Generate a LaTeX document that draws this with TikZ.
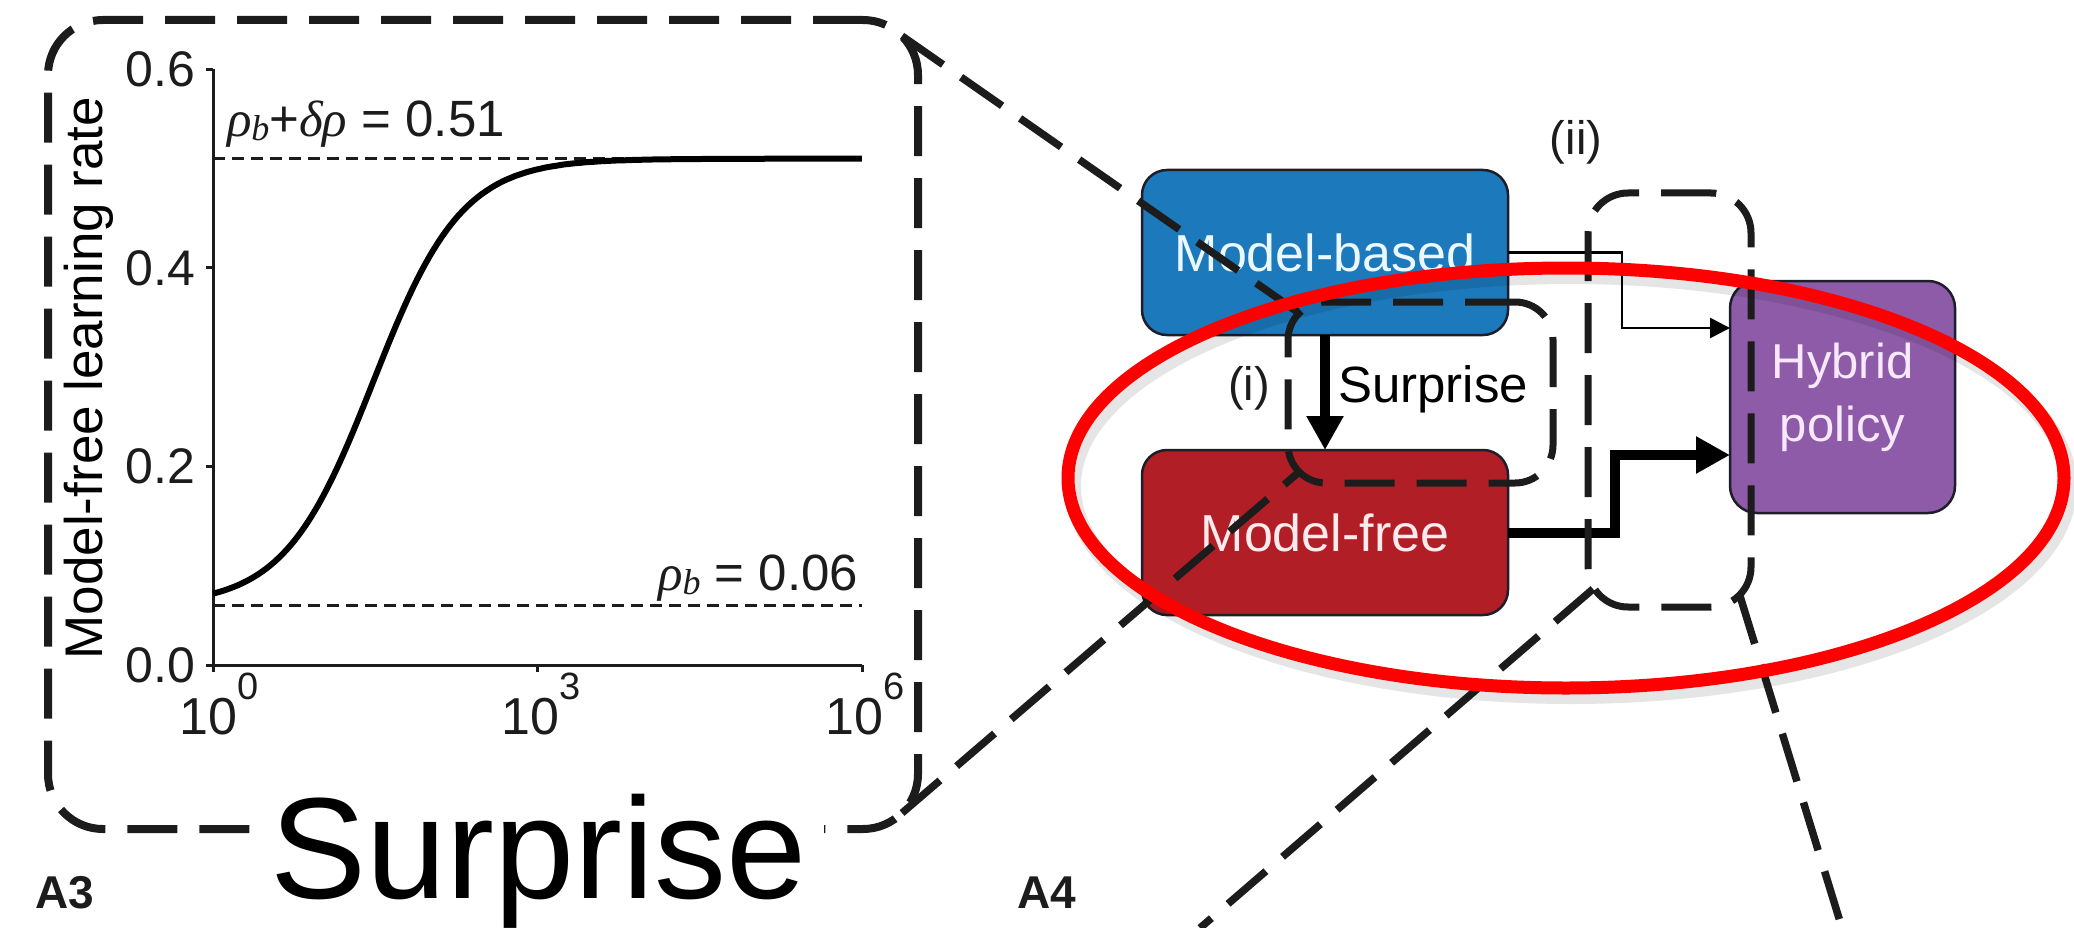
\documentclass[tikz,border=0pt]{standalone}
\usepackage{fontspec}
\setmainfont{Liberation Sans}
\newfontfamily\grkfont{Liberation Serif}
\usetikzlibrary{arrows.meta,calc,shapes.geometric}
\definecolor{inkc}{HTML}{1C1C1C}
\definecolor{mbblue}{RGB}{27,121,188}
\definecolor{mfred}{RGB}{178,30,38}
\definecolor{hppurple}{RGB}{142,91,168}
\definecolor{boxedge}{HTML}{1E1E2A}
\newcommand{\setfs}[1]{\fontsize{#1}{#1}\selectfont}
\newcommand{\tenpow}[1]{10\raisebox{35pt}{\setfs{38}#1}}
\newcommand{\grk}[1]{{\grkfont\itshape #1}}
\newcommand{\rhob}{\grk{ρ}\raisebox{-4pt}{\setfs{36}\grk{b}}}

\begin{document}
\begin{tikzpicture}[x=1pt,y=-1pt,
  every node/.style={inner sep=0pt, outer sep=0pt},
  axisline/.style={draw=inkc, line width=3pt},
  refline/.style={draw=inkc, line width=2.5pt, dash pattern=on 12pt off 7pt},
  curveline/.style={draw=black, line width=6pt},
  ticklab/.style={font={\setfs{50}}, text=inkc},
  dashframe/.style={draw=inkc, line width=7.5pt, dash pattern=on 50pt off 22pt},
  zoomline/.style={draw=inkc, line width=7.5pt, dash pattern=on 50pt off 22pt},
  flowbox/.style={draw=boxedge, line width=2.5pt, rounded corners=25pt, align=center},
  thinarrow/.style={draw=black, line width=2.7pt, -{Triangle[length=20pt,width=20pt]}},
  thickarrow/.style={draw=black, line width=10pt, -{Triangle[length=34pt,width=35pt]}},
  panellab/.style={font={\setfs{46}\bfseries}, text=inkc},
]
\useasboundingbox (0,0) rectangle (2074,928);

% ---------- learning-rate plot ----------
\draw[refline] (213,158.6) -- (862,158.6);
\draw[refline] (213,605.4) -- (862,605.4);
\draw[axisline] (213,69) -- (213,665) -- (862,665);
\foreach \v in {0,0.2,0.4,0.6}
  \draw[axisline] (213,{665-993*\v}) -- ++(-7,0);
\foreach \u in {0,3,6}
  \draw[axisline] ({213+\u*649/6},665) -- ++(0,7);
\draw[curveline] plot[domain=0:6, samples=160]
  ({213+\x*649/6}, {665-993*(0.06+0.45/(1+exp(-(\x-1.48)/0.41)))});

\node[ticklab, anchor=east] (yt0) at (195,665) {0.0};
\node[ticklab, anchor=east] (yt2) at (195,466.4) {0.2};
\node[ticklab, anchor=east] (yt4) at (195,267.8) {0.4};
\node[ticklab, anchor=east] (yt6) at (195,69.2) {0.6};
\node[font={\setfs{52}}, text=inkc, anchor=north] (xt0) at (219,673) {\tenpow{0}};
\node[font={\setfs{52}}, text=inkc, anchor=north] (xt3) at (541,673) {\tenpow{3}};
\node[font={\setfs{52}}, text=inkc, anchor=north] (xt6) at (865,673) {\tenpow{6}};
\node[font={\setfs{53}}, text=black, rotate=90] (ylab) at (89,378) {Model-free learning rate};
\node[font={\setfs{51}}, text=inkc, anchor=base west] (rhohigh) at (227,137)
  {\rhob+\grk{δρ} = 0.51};
\node[font={\setfs{51}}, text=inkc, anchor=base east] (rholow) at (858,590)
  {\rhob\ = 0.06};

% ---------- frame of panel A3 ----------
\node[dashframe, line width=8pt, rounded corners=55pt, minimum width=870pt, minimum height=809pt]
  (frA) at (483,424.5) {};
\node[fill=white, inner xsep=18pt, inner ysep=4pt, anchor=base west, font={\setfs{144}}]
  (bigsurprise) at (252,898) {Surprise};

% ---------- control diagram ----------
\node[flowbox, fill=mbblue, text={rgb,255:red,236;green,248;blue,255}, font={\setfs{52}},
  minimum width=366pt, minimum height=165pt] (mb) at (1325,252.5) {Model-based};
\node[flowbox, fill=mfred, text={rgb,255:red,252;green,234;blue,236}, font={\setfs{52}},
  minimum width=366pt, minimum height=165pt] (mf) at (1325,532.5) {Model-free};
\node[flowbox, fill=hppurple, rounded corners=27pt, text={rgb,255:red,248;green,232;blue,252},
  font={\fontsize{49}{63}\selectfont}, minimum width=225pt, minimum height=232pt]
  (hp) at (1842.5,397) {Hybrid\\policy};

\coordinate (hpin1) at ($(hp.west)+(0,-69)$);
\coordinate (hpin2) at ($(hp.west)+(0,58)$);
\draw[thinarrow] (mb.east) -- ++(114,0) |- (hpin1);
\draw[thickarrow] (mf.east) -- ++(107,0) |- (hpin2);
\draw[thickarrow] (mb.south) -- (mf.north);

\node[font={\setfs{47}}, text=inkc] (labi) at (1249,388) {(i)};
\node[font={\setfs{51}}, text=black, anchor=base west] (surpriselab) at (1338,402) {Surprise};
\node[font={\setfs{47}}, text=inkc] (labii) at (1576,142) {(ii)};

% ---------- dashed zoom frames and zoom lines ----------
\node[dashframe, line width=7pt, rounded corners=38pt, minimum width=265pt, minimum height=181pt]
  (boxi) at (1420.5,392.5) {};
\node[dashframe, line width=7pt, rounded corners=40pt, minimum width=163pt, minimum height=414pt]
  (boxii) at (1669.5,400) {};

\coordinate (frA-ne) at ($(frA.north east)+(-16,16)$);
\coordinate (frA-se) at ($(frA.south east)+(-16,-16)$);
\coordinate (boxi-nw) at ($(boxi.north west)+(11,11)$);
\coordinate (boxi-sw) at ($(boxi.south west)+(11,-11)$);
\coordinate (boxii-sw) at ($(boxii.south west)+(5,-18)$);
\coordinate (boxii-se) at ($(boxii.south east)+(-11,-11)$);
\coordinate (lowL) at (1200,928);
\coordinate (lowR) at (1842,928);

\draw[zoomline] (frA-ne) -- (boxi-nw);
\draw[zoomline] (frA-se) -- (boxi-sw);
\draw[zoomline] (boxii-sw) -- (lowL);
\draw[zoomline] (boxii-se) -- (lowR);

% ---------- panel letters ----------
\node[panellab, anchor=base west] (pA3) at (35,908) {A3};
\node[panellab, anchor=base west] (pA4) at (1017,908) {A4};

% ---------- highlight ring ----------
\node[draw=black, draw opacity=0.10, line width=16pt, ellipse, minimum width=996pt, minimum height=420pt]
  (highlightshadow) at (1571,486) {};
\node[draw=red, line width=13pt, ellipse, minimum width=996pt, minimum height=420pt]
  (highlight) at (1566,478) {};
\end{tikzpicture}
\end{document}
